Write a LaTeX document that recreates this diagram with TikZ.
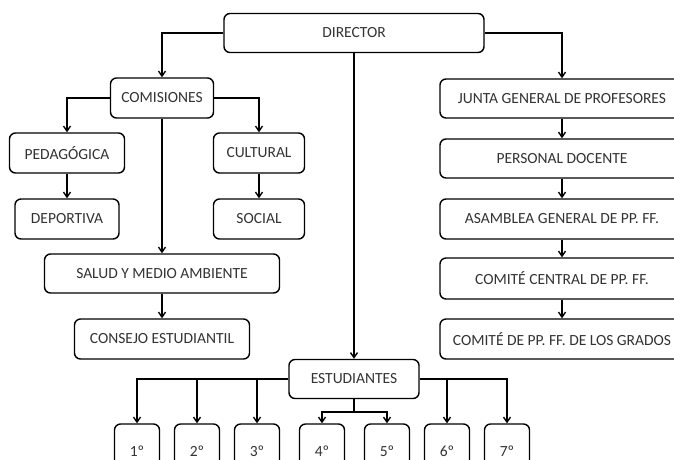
\documentclass[tikz,border=0pt]{standalone}
\usepackage{fontspec}
\setmainfont{Carlito}
\usetikzlibrary{arrows.meta}
\begin{document}
\begin{tikzpicture}[x=1pt,y=-1pt,
  box/.style={draw, rounded corners=6pt, line width=1.4pt, inner sep=0pt,
    font=\fontsize{15.5}{17}\selectfont, text=black!80, fill=white},
  conn/.style={line width=1.4pt, -{Straight Barb[length=5pt,width=7pt]}},
  plain/.style={line width=1.4pt}]
\useasboundingbox (0,0) rectangle (674,459);
\clip (0,0) rectangle (674,459);
\fill[white] (0,0) rectangle (674,459);
% nodes
\node[box, minimum width=260pt, minimum height=39pt] (dir) at (354,33) {DIRECTOR};
\node[box, minimum width=103pt, minimum height=40pt] (com) at (162,98) {COMISIONES};
\node[box, minimum width=115pt, minimum height=40pt] (ped) at (67,153) {PEDAGÓGICA};
\node[box, minimum width=91pt, minimum height=40pt] (cul) at (259,153) {CULTURAL};
\node[box, minimum width=104pt, minimum height=40pt] (dep) at (67,219) {DEPORTIVA};
\node[box, minimum width=91pt, minimum height=40pt] (soc) at (259,219) {SOCIAL};
\node[box, minimum width=235pt, minimum height=39pt] (sal) at (162,273.5) {SALUD Y MEDIO AMBIENTE};
\node[box, minimum width=175pt, minimum height=40pt] (con) at (162,339) {CONSEJO ESTUDIANTIL};
\node[box, minimum width=130pt, minimum height=39pt] (est) at (354,379) {ESTUDIANTES};
\node[box, minimum width=244pt, minimum height=39pt] (jun) at (562,98.5) {JUNTA GENERAL DE PROFESORES};
\node[box, minimum width=244pt, minimum height=39pt] (per) at (562,158.5) {PERSONAL DOCENTE};
\node[box, minimum width=244pt, minimum height=40pt] (asa) at (562,219) {ASAMBLEA GENERAL DE PP. FF.};
\node[box, minimum width=244pt, minimum height=41pt] (cce) at (562,278.5) {COMITÉ CENTRAL DE PP. FF.};
\node[box, minimum width=244pt, minimum height=40pt] (cgr) at (562,339) {COMITÉ DE PP. FF. DE LOS GRADOS};
\foreach \n/\x in {1/137,2/197,3/257,4/322,5/387,6/447,7/507}{
  \node[box, minimum width=45pt, minimum height=54pt] (g\n) at (\x,451) {{\n}º};
}
\coordinate (ej) at (354,412);
% connectors
\draw[conn] (dir.west) -| (com.north);
\draw[conn] (dir.east) -| (jun.north);
\draw[conn] (dir.south) -- (est.north);
\draw[conn] (com.west) -| (ped.north);
\draw[conn] (com.east) -| (cul.north);
\draw[conn] (com.south) -- (sal.north);
\draw[conn] (ped.south) -- (dep.north);
\draw[conn] (cul.south) -- (soc.north);
\draw[conn] (sal.south) -- (con.north);
\draw[conn] (jun.south) -- (per.north);
\draw[conn] (per.south) -- (asa.north);
\draw[conn] (asa.south) -- (cce.north);
\draw[conn] (cce.south) -- (cgr.north);
\draw[conn] (est.west) -| (g1.north);
\draw[conn] (est.west) -| (g2.north);
\draw[conn] (est.west) -| (g3.north);
\draw[plain] (est.south) -- (ej);
\draw[conn] (ej) -| (g4.north);
\draw[conn] (ej) -| (g5.north);
\draw[conn] (est.east) -| (g6.north);
\draw[conn] (est.east) -| (g7.north);
\end{tikzpicture}
\end{document}
